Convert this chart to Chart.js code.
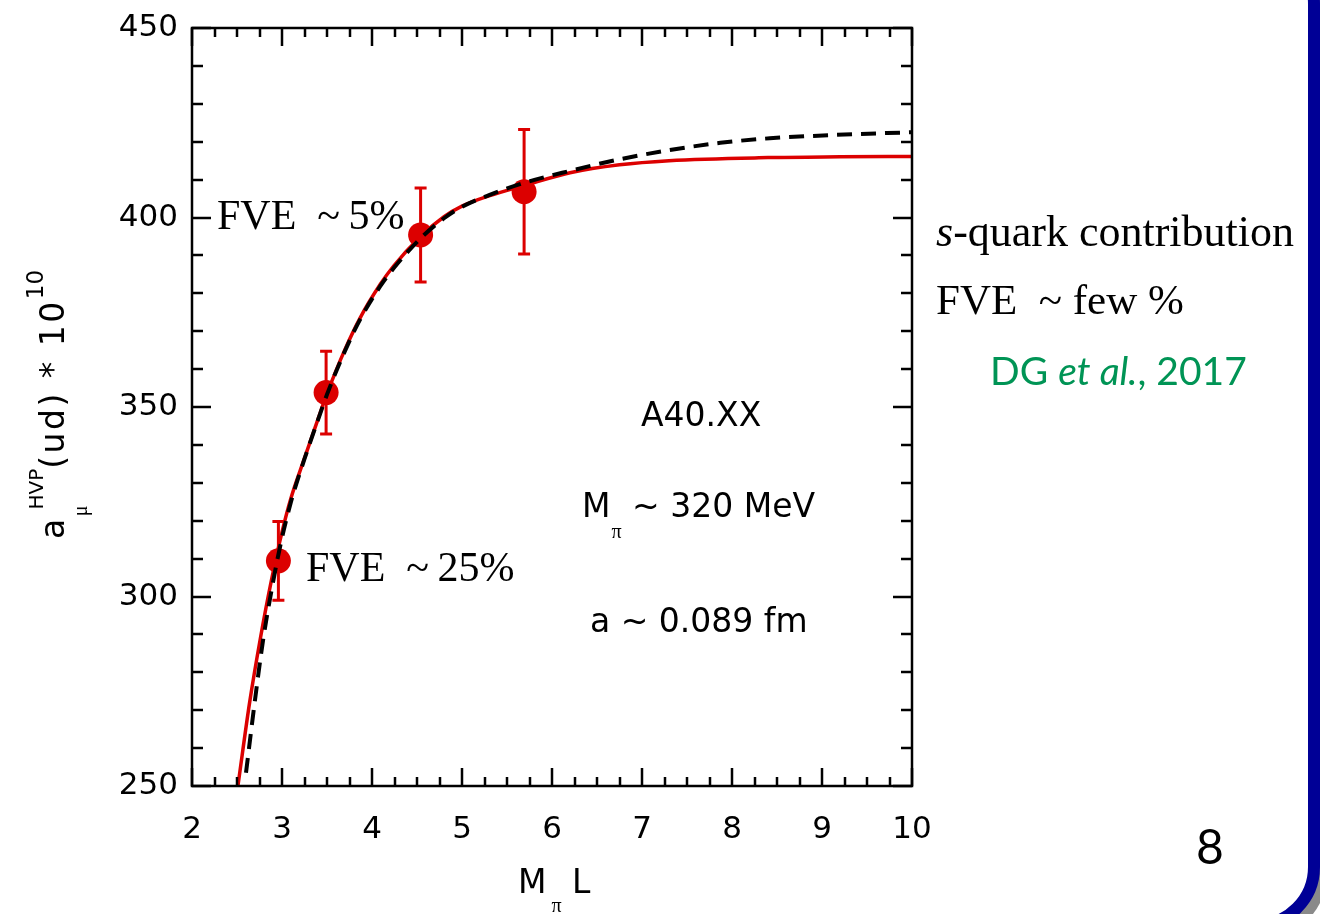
<!DOCTYPE html>
<html>
<head>
<meta charset="utf-8">
<script src="https://cdn.jsdelivr.net/npm/chart.js@4.4.1/dist/chart.umd.min.js"></script>
<style>
  html, body { margin: 0; padding: 0; background: #fff; }
  #page { position: relative; width: 1320px; height: 914px; overflow: hidden; background: #fff; }
  #frame {
    position: absolute; left: -60px; top: -60px; width: 1380px; height: 991px;
    box-sizing: border-box; border: 12px solid #000096; border-radius: 64px;
    box-shadow: 7px 7px 0 #8a8a8a; background: #fff;
  }
  #plot { position: absolute; left: 0; top: 0; }
  .t { position: absolute; white-space: nowrap; line-height: 1; color: #000; }
  .sans { font-family: 'DejaVu Sans', sans-serif; }
  .serif { font-family: 'Liberation Serif', 'Times New Roman', serif; }
  .gill { font-family: 'Lato', sans-serif; }
  .pi { font-family: 'Liberation Serif', serif; font-size: 20px; position: relative; letter-spacing: 0; }
  .sup { position: relative; letter-spacing: 0; }
</style>
</head>
<body>
<div id="page">
  <div id="frame"></div>
  <canvas id="plot" width="1320" height="914"></canvas>

  <!-- y axis title, rotated -->
  <div class="t sans" id="ytitle" style="font-size:33px; letter-spacing:2.5px; left:36px; top:539px; transform-origin:0 0; transform:rotate(-90deg);">a<span class="pi" style="top:23px;">μ</span><span class="sup" style="font-size:20px; top:-21px; margin-left:-4px;">HVP</span>(ud) * 10<span class="sup" style="font-size:23px; top:-21px;">10</span></div>

  <!-- x axis title -->
  <div class="t sans" style="font-size:33px; left:518px; top:865px;">M<span class="pi" style="top:19px; margin-left:5px;">π</span> L</div>

  <!-- in-plot annotations -->
  <div class="t serif" style="font-size:42px; left:217px; top:194px;">FVE&nbsp;&nbsp;~&#8201;5%</div>
  <div class="t serif" style="font-size:42px; left:306px; top:546px;">FVE&nbsp;&nbsp;~&#8201;25%</div>
  <div class="t sans" style="font-size:33px; left:641px; top:398px;">A40.XX</div>
  <div class="t sans" style="font-size:33px; left:582px; top:489px;">M<span class="pi" style="top:21px; margin-left:1px;">π</span> ~ 320 MeV</div>
  <div class="t sans" style="font-size:33px; left:590px; top:604px;">a ~ 0.089 fm</div>

  <!-- side notes -->
  <div class="t serif" style="font-size:44px; left:936px; top:210px;"><i>s</i>-quark contribution</div>
  <div class="t serif" style="font-size:43px; left:936px; top:278px;">FVE&nbsp;&nbsp;~ few %</div>
  <div class="t gill" style="font-size:39px; left:990px; top:351px; color:#009455;">DG <i>et al.</i>, 2017</div>
  <div class="t gill" style="font-size:48px; left:1196px; top:822px;">8</div>
</div>

<script>
// Lattice points: a_mu^HVP(ud) vs M_pi L
const mL = [2.96, 3.49, 4.54, 5.69];
const hvp = [309.4, 353.8, 395.4, 406.8];
const hvpErr = [10.4, 10.9, 12.4, 16.4];

// Solid red FVE curve
const fitX = [2.51, 2.64, 2.76, 2.88, 3.0, 3.1, 3.25, 3.4, 3.5, 3.7, 3.87, 4.09, 4.24, 4.54, 4.8, 5.0, 5.3, 5.7, 6.2, 6.75, 7.3, 8.4, 9.2, 10.0];
const fitY = [250, 272, 289, 304, 317, 326, 336.5, 346.8, 353.5, 365.2, 373.6, 382.3, 387.2, 395, 400.2, 403, 405.7, 408.5, 411.8, 413.9, 415, 415.8, 416, 416.1];

// Dashed black FVE curve
const dashX = [2.6, 2.7, 2.79, 2.91, 3.0, 3.1, 3.25, 3.4, 3.5, 3.7, 3.87, 4.09, 4.24, 4.54, 4.8, 5.0, 5.3, 5.7, 6.2, 6.76, 7.31, 7.87, 8.42, 9.16, 10.0];
const dashY = [253.5, 272.7, 288.5, 305, 315.5, 325, 336.3, 346.6, 353.3, 364.8, 373.2, 381.8, 386.6, 394.5, 399.8, 402.8, 405.9, 409.2, 412.3, 415.4, 417.8, 419.7, 420.9, 421.8, 422.5];

// Axis ranges and labelled ticks
const xTicks = [2, 3, 4, 5, 6, 7, 8, 9, 10];
const yTicks = [250, 300, 350, 400, 450];

const RED = '#dc0000';
const toXY = (xs, ys) => xs.map((v, i) => ({ x: v, y: ys[i] }));

// Vertical error bars behind the markers
const errorBars = {
  id: 'errorBars',
  beforeDatasetsDraw(chart) {
    const { ctx, scales: { x, y } } = chart;
    ctx.save();
    ctx.strokeStyle = RED;
    ctx.lineWidth = 3;
    mL.forEach((v, i) => {
      const px = x.getPixelForValue(v);
      const top = y.getPixelForValue(hvp[i] + hvpErr[i]);
      const bot = y.getPixelForValue(hvp[i] - hvpErr[i]);
      ctx.beginPath();
      ctx.moveTo(px, top); ctx.lineTo(px, bot);
      ctx.moveTo(px - 6, top); ctx.lineTo(px + 6, top);
      ctx.moveTo(px - 6, bot); ctx.lineTo(px + 6, bot);
      ctx.stroke();
    });
    ctx.restore();
  }
};

// Closed frame with inward major and minor ticks on all four sides
const frameTicks = {
  id: 'frameTicks',
  afterDatasetsDraw(chart) {
    const { ctx, chartArea: a, scales: { x, y } } = chart;
    ctx.save();
    ctx.strokeStyle = '#000';
    ctx.lineWidth = 2.5;
    ctx.lineCap = 'square';
    ctx.strokeRect(a.left, a.top, a.right - a.left, a.bottom - a.top);
    ctx.lineCap = 'butt';
    ctx.beginPath();
    for (let k = 0; k <= (x.max - x.min) * 4; k++) {
      const v = x.min + k * 0.25;
      const len = (k % 4 === 0) ? 18 : 9;
      const px = Math.round(x.getPixelForValue(v));
      ctx.moveTo(px, a.bottom); ctx.lineTo(px, a.bottom - len);
      ctx.moveTo(px, a.top); ctx.lineTo(px, a.top + len);
    }
    for (let k = 0; k <= (y.max - y.min) / 10; k++) {
      const v = y.min + k * 10;
      const len = (k % 5 === 0) ? 19 : 11;
      const py = Math.round(y.getPixelForValue(v));
      ctx.moveTo(a.left, py); ctx.lineTo(a.left + len, py);
      ctx.moveTo(a.right, py); ctx.lineTo(a.right - len, py);
    }
    ctx.stroke();
    ctx.restore();
  }
};

new Chart(document.getElementById('plot'), {
  type: 'scatter',
  data: {
    datasets: [
      {
        label: 'FVE (dashed)',
        data: toXY(dashX, dashY),
        showLine: true,
        borderColor: '#000',
        borderWidth: 4,
        borderDash: [15, 9],
        pointRadius: 0,
        cubicInterpolationMode: 'monotone',
        order: 0
      },
      {
        label: 'FVE',
        data: toXY(fitX, fitY),
        showLine: true,
        borderColor: RED,
        borderWidth: 3.5,
        pointRadius: 0,
        cubicInterpolationMode: 'monotone',
        order: 1
      },
      {
        label: 'A40.XX',
        data: toXY(mL, hvp),
        showLine: false,
        pointRadius: 12.5,
        pointBackgroundColor: RED,
        pointBorderWidth: 0,
        order: 2
      }
    ]
  },
  options: {
    responsive: false,
    animation: false,
    devicePixelRatio: 1,
    layout: { padding: { left: 0, right: 408, top: 28, bottom: 0 } },
    plugins: { legend: { display: false }, tooltip: { enabled: false } },
    scales: {
      x: {
        type: 'linear', min: 2, max: 10,
        afterFit(s) { s.height = 128; },
        afterBuildTicks(s) { s.ticks = xTicks.map(v => ({ value: v })); },
        grid: { display: false },
        border: { display: false },
        ticks: { color: '#000', padding: 17, font: { family: 'DejaVu Sans', size: 31 } }
      },
      y: {
        type: 'linear', min: 250, max: 450,
        afterFit(s) { s.width = 192; },
        afterBuildTicks(s) { s.ticks = yTicks.map(v => ({ value: v })); },
        grid: { display: false },
        border: { display: false },
        ticks: { color: '#000', padding: 6, font: { family: 'DejaVu Sans', size: 31 } }
      }
    }
  },
  plugins: [errorBars, frameTicks]
});
</script>
</body>
</html>
